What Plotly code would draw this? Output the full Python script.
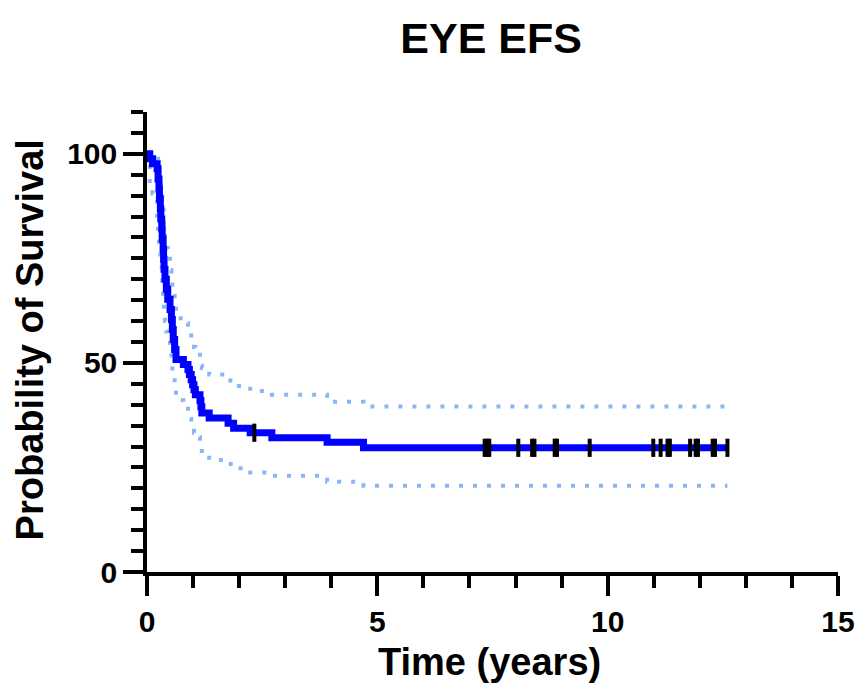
import numpy as np
import plotly.graph_objects as go

# Kaplan-Meier step times (years) and survival (%)
times = [0, 0.06, 0.12, 0.22, 0.24, 0.26, 0.27, 0.29, 0.30, 0.32, 0.33, 0.35, 0.36, 0.37,
         0.39, 0.42, 0.45, 0.50, 0.53, 0.55, 0.57, 0.60, 0.63, 0.79, 0.89, 0.92, 0.96, 0.99,
         1.02, 1.05, 1.15, 1.17, 1.19, 1.35, 1.76, 1.88, 2.24, 2.71, 3.91, 4.70, 12.60]
survival = [100, 98.8, 97.6, 96.4, 94.0, 91.6, 89.2, 86.8, 84.4, 82.0, 79.6, 77.2, 74.8, 72.4,
            70.0, 67.6, 65.2, 62.8, 60.4, 58.0, 55.6, 53.2, 50.8, 49.6, 48.4, 47.2, 46.0, 44.8,
            43.6, 42.4, 41.0, 39.5, 38.0, 36.8, 35.6, 34.4, 33.3, 32.1, 31.0, 29.7, 29.7]
upper_ci = [100, 100, 100, 99.5, 98.5, 97.0, 95.5, 94.0, 92.5, 90.6, 88.5, 86.5, 84.5, 82.0,
            80.0, 77.5, 75.4, 72.2, 69.4, 67.5, 66.0, 63.5, 60.7, 59.5, 58.3, 57.1, 55.8, 54.7,
            53.8, 52.7, 50.5, 49.3, 48.8, 47.2, 45.8, 44.5, 43.3, 42.4, 40.7, 39.6, 39.6]
lower_ci = [100, 92.2, 90.5, 84.5, 81.0, 78.0, 76.5, 75.0, 73.5, 70.5, 68.3, 66.5, 64.5, 62.0,
            60.0, 57.5, 55.9, 52.5, 50.0, 48.0, 46.5, 44.2, 41.1, 39.8, 37.8, 36.6, 35.5, 34.5,
            33.3, 32.2, 30.6, 29.5, 28.3, 26.8, 25.8, 24.8, 23.8, 23.0, 21.6, 20.6, 20.6]
censor_times = [2.33, 7.33, 7.38, 7.43, 8.06, 8.36, 8.41, 8.85, 8.90, 9.61, 10.99, 11.15,
                11.30, 11.35, 11.79, 11.91, 11.96, 12.28, 12.33, 12.60]

x_ticks = [0, 5, 10, 15]
y_ticks = [0, 50, 100]

# survival value at each censor time (from the step function)
t_arr = np.array(times)
s_arr = np.array(survival)
idx = np.searchsorted(t_arr, censor_times, side="right") - 1
censor_surv = s_arr[idx]

FONT = "Arial, Liberation Sans, Helvetica, sans-serif"
CI_COLOR = "rgb(135,183,245)"

fig = go.Figure()
fig.add_trace(go.Scatter(x=times, y=upper_ci, mode="lines", line_shape="hv",
                         line=dict(color=CI_COLOR, width=4, dash="4px,10px"),
                         showlegend=False, hoverinfo="skip"))
fig.add_trace(go.Scatter(x=times, y=lower_ci, mode="lines", line_shape="hv",
                         line=dict(color=CI_COLOR, width=4, dash="4px,10px"),
                         showlegend=False, hoverinfo="skip"))
fig.add_trace(go.Scatter(x=times, y=survival, mode="lines", line_shape="hv",
                         line=dict(color="#0000FF", width=7),
                         showlegend=False))
fig.add_trace(go.Scatter(x=censor_times, y=censor_surv, mode="markers",
                         marker=dict(symbol="line-ns", size=13, color="black",
                                     line=dict(color="black", width=4)),
                         showlegend=False, cliponaxis=False))

axis_common = dict(
    showline=True, linecolor="black", linewidth=3.5, mirror=False,
    showgrid=False, zeroline=False,
    ticks="outside", ticklen=20, tickwidth=3.5, tickcolor="black",
    tickfont=dict(family=FONT, size=30, color="black", weight="bold"),
)

fig.update_xaxes(range=[0, 15], tickvals=x_ticks, ticktext=[str(v) for v in x_ticks],
                 minor=dict(dtick=1, tick0=0, ticks="outside", ticklen=12, tickwidth=3.5,
                            tickcolor="black"),
                 **axis_common)
fig.update_yaxes(range=[0, 110], tickvals=y_ticks, ticktext=[str(v) for v in y_ticks],
                 minor=dict(dtick=5, tick0=0, ticks="outside", ticklen=12, tickwidth=3.5,
                            tickcolor="black"),
                 **axis_common)

fig.update_layout(
    width=858, height=694,
    margin=dict(l=147, r=20, t=112, b=122, autoexpand=False),
    plot_bgcolor="white", paper_bgcolor="white",
    title=dict(text="EYE EFS", x=0.498, xref="paper", xanchor="center",
               y=1 - 38 / 694, yref="container", yanchor="middle",
               font=dict(family=FONT, size=43, color="black", weight="bold")),
    annotations=[
        dict(text="Time (years)", xref="paper", yref="paper", x=0.495, y=-0.196,
             xanchor="center", yanchor="middle", showarrow=False,
             font=dict(family=FONT, size=38, color="black", weight="bold")),
        dict(text="Probability of Survival", xref="paper", yref="paper", x=-0.169, y=0.504,
             xanchor="center", yanchor="middle", showarrow=False, textangle=-90,
             font=dict(family=FONT, size=38, color="black", weight="bold")),
    ],
)

fig.write_html("out.html")
